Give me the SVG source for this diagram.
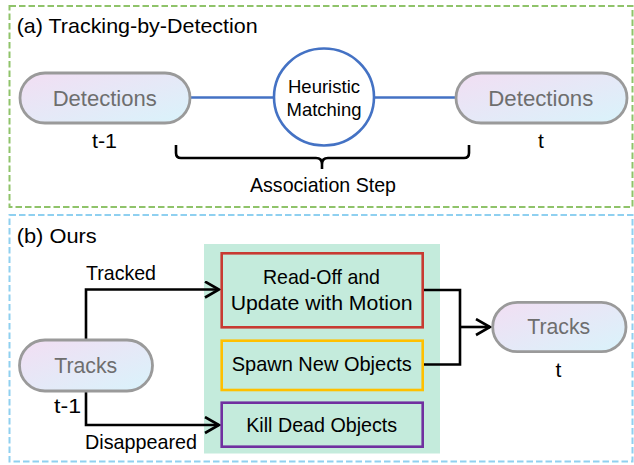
<svg xmlns="http://www.w3.org/2000/svg" width="634" height="465" viewBox="0 0 634 465">
<style>
text{font-family:"Liberation Sans",Arial,sans-serif;fill:#000;}
.c{text-anchor:middle;}
.t20{font-size:21px;}
.pilltxt{font-size:22.5px;fill:#6e6e6e;text-anchor:middle;}
.pill{fill:url(#pg);stroke:#9a9a9a;stroke-width:2.8;}
.frameA{fill:none;stroke:#8fc36a;stroke-width:2;stroke-dasharray:6.5 3;}
.frameB{fill:none;stroke:#8fd0f0;stroke-width:2;stroke-dasharray:6.5 3;}
.blue{fill:none;stroke:#4472c4;stroke-width:2.5;}
.conn{fill:none;stroke:#000;stroke-width:2.6;}
.box{fill:none;stroke-width:2.6;}
</style>
<defs>
<linearGradient id="pg" x1="0" y1="0" x2="1" y2="1">
<stop offset="0" stop-color="#f2def3"/>
<stop offset="1" stop-color="#d9f3fb"/>
</linearGradient>
<marker id="arr" markerUnits="userSpaceOnUse" markerWidth="20" markerHeight="20" refX="15" refY="9" orient="auto">
<path d="M1,1 L15,9 L1,17" fill="none" stroke="#000" stroke-width="2.6"/>
</marker>
</defs>

<g id="frame-a">
<rect class="frameA" x="9.5" y="6" width="623" height="201"/>
<text class="t20" x="16.7" y="33" textLength="241" lengthAdjust="spacingAndGlyphs">(a) Tracking-by-Detection</text>
</g>
<g id="frame-b">
<rect class="frameB" x="9.5" y="215" width="623" height="246.5"/>
<text class="t20" x="16.7" y="243.3" textLength="80" lengthAdjust="spacingAndGlyphs">(b) Ours</text>
</g>

<g id="ops-bg">
<rect x="204" y="244" width="236" height="209.5" fill="#c4ebdc"/>
</g>

<g id="connectors">
<line class="blue" x1="190" y1="97.5" x2="274" y2="97.5"/>
<line class="blue" x1="374" y1="97.5" x2="456" y2="97.5"/>
<path class="conn" d="M176,145 V153 Q176,158 181,158 H316 Q322,158 322,164 V169 M322,164 Q322,158 328,158 H464 Q469,158 469,153 V145"/>
<polyline class="conn" points="86,339 86,289.5 219,289.5" marker-end="url(#arr)"/>
<polyline class="conn" points="86,391 86,425 219,425" marker-end="url(#arr)"/>
<polyline class="conn" points="423,290 460,290 460,364.5 423,364.5"/>
<line class="conn" x1="460" y1="327" x2="490" y2="327" marker-end="url(#arr)"/>
<text class="t20" x="86" y="280" textLength="70" lengthAdjust="spacingAndGlyphs">Tracked</text>
<text class="t20" x="85" y="449.3" textLength="112" lengthAdjust="spacingAndGlyphs">Disappeared</text>
<text class="t20 c" x="323" y="191.7" textLength="146" lengthAdjust="spacingAndGlyphs">Association Step</text>
</g>

<g id="det-prev">
<rect class="pill" x="20" y="73" width="170" height="50" rx="25"/>
<text class="pilltxt" x="104.7" y="105.7" textLength="104" lengthAdjust="spacingAndGlyphs">Detections</text>
<text class="t20 c" x="104.5" y="147.5" textLength="25" lengthAdjust="spacingAndGlyphs">t-1</text>
</g>

<g id="matching">
<ellipse cx="324" cy="97" rx="50" ry="48.5" fill="#fff" stroke="#4472c4" stroke-width="2.6"/>
<text class="c" x="324" y="93" font-size="19" textLength="72" lengthAdjust="spacingAndGlyphs">Heuristic</text>
<text class="c" x="324" y="115.5" font-size="19" textLength="75" lengthAdjust="spacingAndGlyphs">Matching</text>
</g>

<g id="det-cur">
<rect class="pill" x="456" y="73" width="171" height="50" rx="25"/>
<text class="pilltxt" x="540.8" y="106" textLength="105" lengthAdjust="spacingAndGlyphs">Detections</text>
<text class="t20 c" x="541" y="148">t</text>
</g>

<g id="tracks-prev">
<rect class="pill" x="19.5" y="340" width="133" height="51" rx="25.5"/>
<text class="pilltxt" x="85.7" y="372.7" textLength="63" lengthAdjust="spacingAndGlyphs">Tracks</text>
<text class="t20 c" x="67.5" y="413.3" textLength="27" lengthAdjust="spacingAndGlyphs">t-1</text>
</g>

<g id="readoff">
<rect class="box" x="221.7" y="253.3" width="201" height="74" stroke="#c83a32"/>
<text class="t20 c" x="321.5" y="284" textLength="117" lengthAdjust="spacingAndGlyphs">Read-Off and</text>
<text class="t20 c" x="321.7" y="310" textLength="182" lengthAdjust="spacingAndGlyphs">Update with Motion</text>
</g>

<g id="spawn">
<rect class="box" x="221.7" y="340.7" width="201" height="49.3" stroke="#ffc000"/>
<text class="t20 c" x="321.7" y="370.7" textLength="180" lengthAdjust="spacingAndGlyphs">Spawn New Objects</text>
</g>

<g id="kill">
<rect class="box" x="221.7" y="402.7" width="201" height="44" stroke="#7030a0"/>
<text class="t20 c" x="321.7" y="431.7" textLength="151" lengthAdjust="spacingAndGlyphs">Kill Dead Objects</text>
</g>

<g id="tracks-cur">
<rect class="pill" x="492.7" y="302.3" width="133.3" height="49.4" rx="24.7"/>
<text class="pilltxt" x="558.7" y="334" textLength="63" lengthAdjust="spacingAndGlyphs">Tracks</text>
<text class="t20 c" x="558.5" y="376.7">t</text>
</g>
</svg>
